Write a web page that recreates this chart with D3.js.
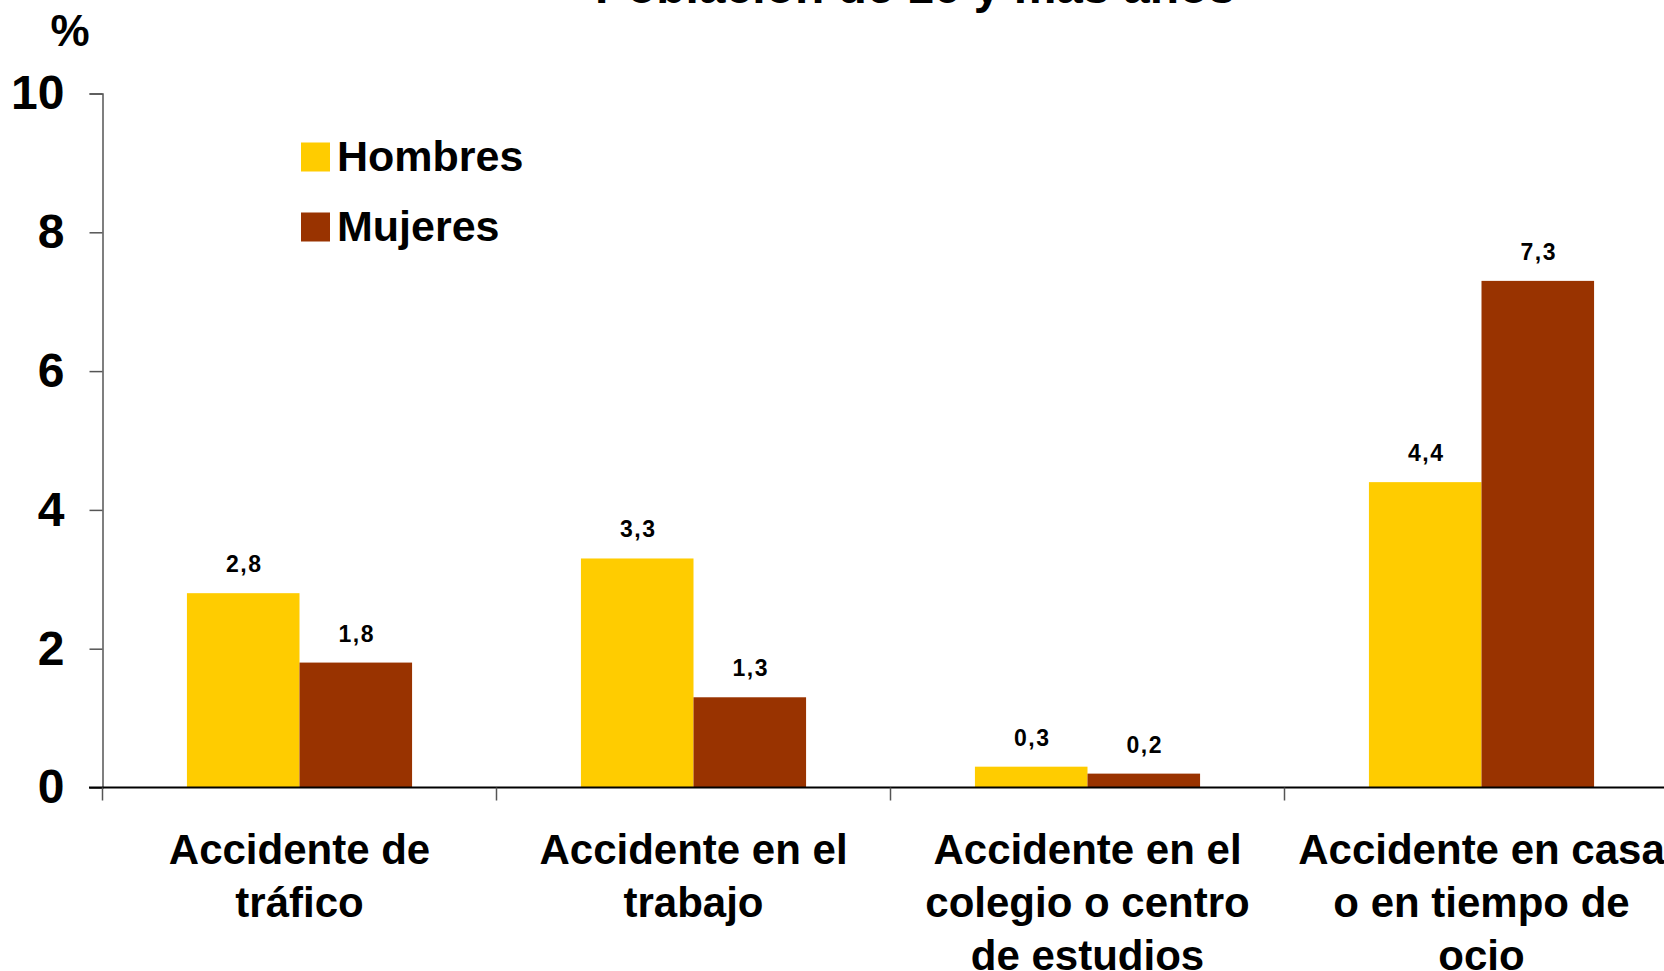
<!DOCTYPE html>
<html>
<head>
<meta charset="utf-8">
<script src="https://cdn.jsdelivr.net/npm/d3@7"></script>
<style>
  body { margin: 0; background: #fff; overflow: hidden; }
  text { font-family: "Liberation Sans", Arial, sans-serif; font-weight: bold; fill: #000; }
</style>
</head>
<body>
<script>
// chart data
var categories = ["trafico", "trabajo", "colegio", "casa"];
var categoryLines = [
  ["Accidente de", "tráfico"],
  ["Accidente en el", "trabajo"],
  ["Accidente en el", "colegio o centro", "de estudios"],
  ["Accidente en casa", "o en tiempo de", "ocio"]
];
var seriesNames = ["Hombres", "Mujeres"];
var hombres = [2.8, 3.3, 0.3, 4.4];
var mujeres = [1.8, 1.3, 0.2, 7.3];
var yTicks = [0, 2, 4, 6, 8, 10];
var colors = ["#FFCC00", "#993300"];

var W = 1664, H = 971;

var svg = d3.select("body").append("svg")
  .attr("width", W)
  .attr("height", H);

// plot area runs past the right edge, like the original
var x = d3.scaleBand()
  .domain(categories)
  .range([102.5, 1678.5])
  .padding(0);

var xs = d3.scaleBand()
  .domain(seriesNames)
  .range([0, x.bandwidth()])
  .paddingInner(0)
  .paddingOuter(0.75);

var y = d3.scaleLinear()
  .domain([0, 10])
  .range([787.5, 93.5]);

// title, mostly cut off at the top
svg.append("text")
  .attr("x", 915)
  .attr("y", 3)
  .attr("text-anchor", "middle")
  .style("font-size", "48px")
  .text("Población de 16 y más años");

svg.append("text")
  .attr("x", 70)
  .attr("y", 46)
  .attr("text-anchor", "middle")
  .style("font-size", "44px")
  .text("%");

// y axis
var yAxis = svg.append("g")
  .attr("transform", "translate(102.5,0)")
  .call(d3.axisLeft(y).tickValues(yTicks).tickSize(13).tickPadding(25).tickFormat(d3.format("d")));
yAxis.select(".domain").attr("stroke", "#555").attr("stroke-width", 1.5);
yAxis.selectAll(".tick line").attr("stroke", "#555").attr("stroke-width", 1.5);
yAxis.selectAll(".tick text")
  .style("font-size", "48px")
  .style("font-family", "'Liberation Sans', Arial, sans-serif")
  .style("font-weight", "bold");

// bars
var rows = categories.map(function(c, i) {
  return { cat: c, values: [hombres[i], mujeres[i]] };
});

var groups = svg.selectAll(".grp")
  .data(rows)
  .enter().append("g")
  .attr("class", "grp")
  .attr("transform", function(d) { return "translate(" + x(d.cat) + ",0)"; });

groups.selectAll("rect")
  .data(function(d) { return d.values.map(function(v, j) { return { s: seriesNames[j], v: v, j: j }; }); })
  .enter().append("rect")
  .attr("x", function(d) { return xs(d.s); })
  .attr("y", function(d) { return y(d.v); })
  .attr("width", xs.bandwidth())
  .attr("height", function(d) { return y(0) - y(d.v); })
  .attr("fill", function(d) { return colors[d.j]; });

groups.selectAll(".lbl")
  .data(function(d) { return d.values.map(function(v, j) { return { s: seriesNames[j], v: v }; }); })
  .enter().append("text")
  .attr("class", "lbl")
  .attr("x", function(d) { return xs(d.s) + xs.bandwidth() / 2 + 1; })
  .attr("y", function(d) { return y(d.v) - 21; })
  .attr("text-anchor", "middle")
  .style("font-size", "23px")
  .style("letter-spacing", "1.5px")
  .text(function(d) { return String(d.v.toFixed(1)).replace(".", ","); });

// x axis baseline and category separators
svg.append("line")
  .attr("x1", 89).attr("x2", W)
  .attr("y1", y(0)).attr("y2", y(0))
  .attr("stroke", "#000").attr("stroke-width", 2);

svg.selectAll(".sep")
  .data(categories)
  .enter().append("line")
  .attr("class", "sep")
  .attr("x1", function(d) { return x(d); })
  .attr("x2", function(d) { return x(d); })
  .attr("y1", y(0)).attr("y2", y(0) + 13)
  .attr("stroke", "#555").attr("stroke-width", 1.5);

// category labels
svg.selectAll(".cat")
  .data(categories)
  .enter().append("text")
  .attr("class", "cat")
  .attr("text-anchor", "middle")
  .style("font-size", "42px")
  .attr("transform", function(d) { return "translate(" + (x(d) + x.bandwidth() / 2) + ",864)"; })
  .each(function(d, i) {
    d3.select(this).selectAll("tspan")
      .data(categoryLines[i])
      .enter().append("tspan")
      .attr("x", 0)
      .attr("y", function(t, k) { return k * 53; })
      .text(function(t) { return t; });
  });

// legend
var legend = svg.append("g");
seriesNames.forEach(function(name, i) {
  var ly = 142.5 + i * 70;
  legend.append("rect")
    .attr("x", 301).attr("y", ly)
    .attr("width", 29).attr("height", 29)
    .attr("fill", colors[i]);
  legend.append("text")
    .attr("x", 337)
    .attr("y", ly + 28)
    .style("font-size", "43px")
    .text(name);
});
</script>
</body>
</html>
